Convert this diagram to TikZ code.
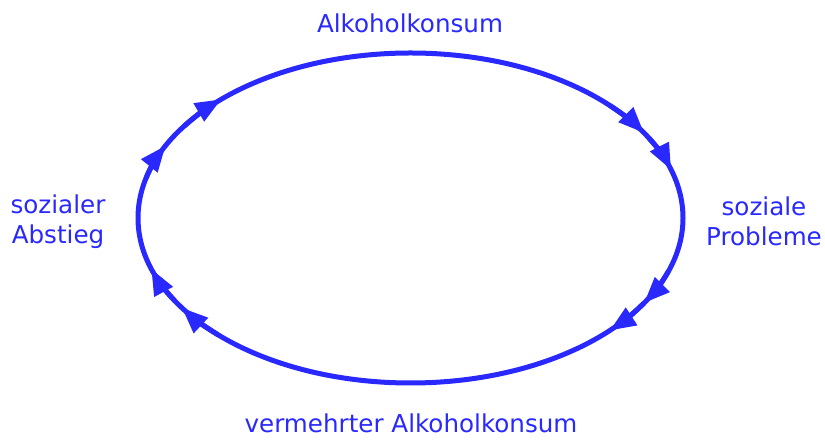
\documentclass[tikz,border=0pt]{standalone}
\usepackage{fontspec}
\setmainfont{DejaVu Sans}
\usetikzlibrary{positioning,arrows.meta,calc}
\definecolor{cycleblue}{RGB}{40,40,255}

\begin{document}
\begin{tikzpicture}[
  x=1pt, y=1pt,
  station/.style={text=cycleblue, align=center, inner sep=0pt,
                  font=\fontsize{24.6}{30}\selectfont},
  cycleline/.style={draw=cycleblue, line width=5pt},
  headarc/.style={cycleline, -{Triangle[length=26pt, width=20pt]}}
]
\useasboundingbox (0,0) rectangle (825,441);
% centre of the cycle
\coordinate (c) at (410.5,223);
% the four stations
\node[station, anchor=base] (konsum)   at (410,408)  {Alkoholkonsum};
\node[station]              (probleme) at (764,219.5) {soziale\\Probleme};
\node[station, anchor=base] (mehr)     at (411,8)    {vermehrter Alkoholkonsum};
\node[station]              (abstieg)  at (58,219.5)  {sozialer\\Abstieg};
% the cycle itself
\draw[cycleline] (c) ellipse [x radius=272.5, y radius=165];
% arrow heads, running clockwise
\foreach \a in {31,17,-31,-43,213,198,154,134}
  \draw[headarc] ([shift={(\a+12:272.5 and 165)}]c)
    arc[start angle=\a+12, end angle=\a, x radius=272.5, y radius=165];
\end{tikzpicture}
\end{document}
